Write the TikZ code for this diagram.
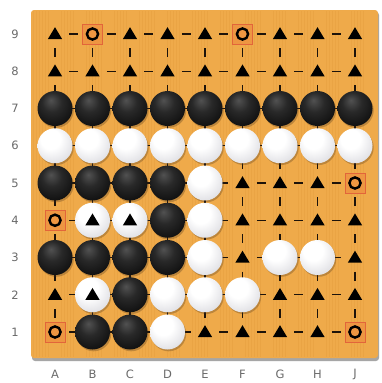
\documentclass[tikz,border=0pt]{standalone}
\usepackage{fontspec}
\setmainfont{DejaVu Sans}
\usetikzlibrary{calc}
\definecolor{board}{HTML}{EFAA4A}
\definecolor{grain}{HTML}{D98F30}
\definecolor{sqfill}{HTML}{EE9642}
\definecolor{sqdraw}{HTML}{E2653A}
\definecolor{lbl}{HTML}{6A6A6A}
\definecolor{wedge}{HTML}{A8A8B4}
\pgfdeclareradialshading{bstone}{\pgfpoint{-6bp}{12bp}}{color(0bp)=(black!68); color(14bp)=(black!84); color(36bp)=(black!96); color(60bp)=(black)}
\pgfdeclareradialshading{wstone}{\pgfpoint{-8bp}{12bp}}{color(0bp)=(white); color(14bp)=(white); color(32bp)=(wedge!35); color(50bp)=(wedge!85); color(65bp)=(wedge!80!black)}
\tikzset{
  dashseg/.style={black!85!brown,line width=1.3pt},
  grainline/.style={grain,line width=0.5pt,opacity=0.22},
  stoneshadow/.style={black!60!brown,opacity=0.3},
  markcirc/.style={black,line width=2.4pt},
  marksq/.style={fill=sqfill,draw=sqdraw,line width=0.7pt},
  lab/.style={text=lbl,font=\fontsize{11.5}{14}\selectfont,inner sep=0pt}
}
\newcommand\bst[1]{\fill[stoneshadow] ($(#1)+(1.2,1.8)$) circle (17.5);\shade[shading=bstone] (#1) circle (17.5);}
\newcommand\wst[1]{\fill[stoneshadow] ($(#1)+(1.2,1.8)$) circle (17.5);\shade[shading=wstone] (#1) circle (17.5);}
\newcommand\tri[1]{\fill[black] ($(#1)+(0,-6.8)$) -- ++(7.2,12) -- ++(-14.4,0) -- cycle;}
\newcommand\cmk[1]{\draw[marksq] ($(#1)+(-10,-10)$) rectangle ++(20,20);\draw[markcirc] (#1) circle (5.6);}
\begin{document}
\begin{tikzpicture}[x=1pt,y=-1pt]
\useasboundingbox (0,0) rectangle (381,383);
\fill[white] (0,0) rectangle (381,383);
% board
\fill[black!35,rounded corners=3pt] (32,12) rectangle (379,361);
\fill[board,rounded corners=3pt] (31,10) rectangle (378,358);
\foreach \i in {0,...,70}{
  \draw[grainline] ({33+mod(\i*53,343)},11) -- ++(0,346);
}
% grid points
\foreach \c in {1,...,9}{
  \foreach \r in {1,...,9}{
    \coordinate (p\c-\r) at ({55+37.5*(\c-1)},{34+37.25*(9-\r)});
  }
}
% dashes
\foreach \r in {1,...,9}{
  \foreach \c in {1,...,8}{
    \pgfmathtruncatemacro\n{\c+1}
    \draw[dashseg] ($(p\c-\r)!0.5!(p\n-\r)+(-4.5,0)$) -- ++(9,0);
  }
}
\foreach \c in {1,...,9}{
  \foreach \r in {1,...,8}{
    \pgfmathtruncatemacro\n{\r+1}
    \draw[dashseg] ($(p\c-\r)!0.5!(p\c-\n)+(0,-4.5)$) -- ++(0,9);
  }
}
% black stones
\foreach \p in {1-7,2-7,3-7,4-7,5-7,6-7,7-7,8-7,9-7,1-5,2-5,3-5,4-5,4-4,1-3,2-3,3-3,4-3,3-2,2-1,3-1}{\bst{p\p}}
% white stones
\foreach \p in {1-6,2-6,3-6,4-6,5-6,6-6,7-6,8-6,9-6,5-5,2-4,3-4,5-4,5-3,7-3,8-3,2-2,4-2,5-2,6-2,4-1}{\wst{p\p}}
% triangles
\foreach \p in {1-9,3-9,4-9,5-9,7-9,8-9,9-9,1-8,2-8,3-8,4-8,5-8,6-8,7-8,8-8,9-8,6-5,7-5,8-5,6-4,7-4,8-4,9-4,6-3,9-3,1-2,7-2,8-2,9-2,5-1,6-1,7-1,8-1,2-4,3-4,2-2}{\tri{p\p}}
% circle marks
\foreach \p in {2-9,6-9,9-5,1-4,1-1,9-1}{\cmk{p\p}}
% labels
\foreach \r in {1,...,9}{
  \node[lab] (row\r) at ($(p1-\r)+(-40,0)$) {\r};
}
\foreach \l [count=\c] in {A,B,C,D,E,F,G,H,J}{
  \node[lab] (col\l) at ($(p\c-1)+(0,42)$) {\l};
}
\end{tikzpicture}
\end{document}
